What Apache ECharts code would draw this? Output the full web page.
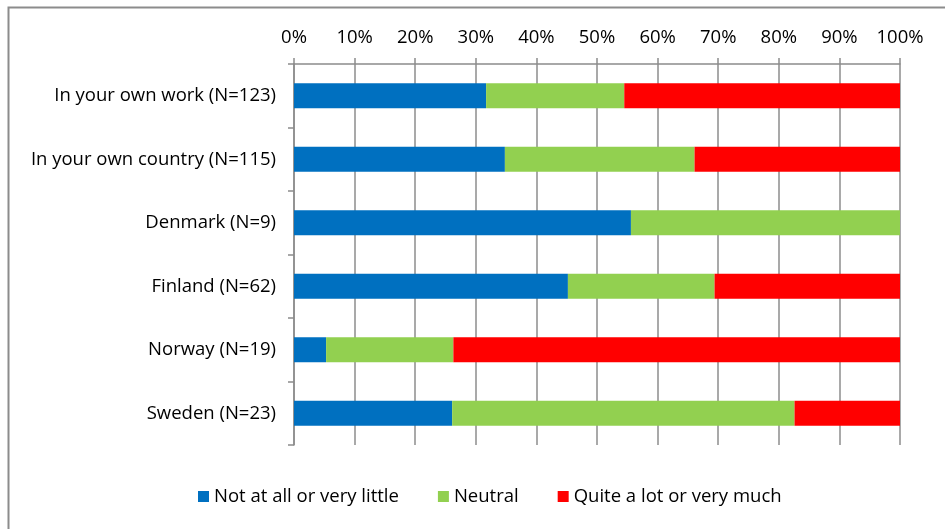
<!DOCTYPE html>
<html>
<head>
<meta charset="utf-8">
<script src="https://cdn.jsdelivr.net/npm/echarts@6/dist/echarts.min.js"></script>
<style>
html,body{margin:0;padding:0;background:#fff;}
#chart{width:945px;height:529px;}
</style>
</head>
<body>
<div id="chart"></div>
<script>
var categories = ["In your own work (N=123)", "In your own country (N=115)", "Denmark (N=9)", "Finland (N=62)", "Norway (N=19)", "Sweden (N=23)"];
var seriesNames = ["Not at all or very little", "Neutral", "Quite a lot or very much"];
var notAtAll = [31.7, 34.8, 55.6, 45.2, 5.3, 26.1];
var neutral = [22.8, 31.3, 44.4, 24.2, 21.0, 56.5];
var quiteALot = [45.5, 33.9, 0, 30.6, 73.7, 17.4];
var colors = ["#0070C0", "#92D050", "#FF0000"];

var FONT = "Open Sans";
var FS = 18.5;
var chart = echarts.init(document.getElementById('chart'));
var values = [notAtAll, neutral, quiteALot];
var option = {
  animation: false,
  textStyle: {fontFamily: FONT},
  graphic: [{
    type: 'rect', left: 6, top: 5, silent: true,
    shape: {width: 1000, height: 600},
    style: {fill: 'none', stroke: '#8c8c8c', lineWidth: 2}
  }],
  grid: {left: 294, top: 64, width: 606, height: 381, containLabel: false},
  xAxis: {
    type: 'value', position: 'top', min: 0, max: 100, interval: 10,
    axisLabel: {formatter: '{value}%', color: '#000', fontSize: FS, fontFamily: FONT, margin: 17},
    axisLine: {show: true, lineStyle: {color: '#8c8c8c', width: 1.5}},
    axisTick: {show: true, length: 6, lineStyle: {color: '#8c8c8c', width: 1.5}},
    splitLine: {show: true, lineStyle: {color: '#8c8c8c', width: 1.5}}
  },
  yAxis: {
    type: 'category', inverse: true, data: categories,
    axisLabel: {color: '#000', fontSize: FS, fontFamily: FONT, margin: 18},
    axisLine: {show: true, lineStyle: {color: '#8c8c8c', width: 1.5}},
    axisTick: {show: true, length: 6, lineStyle: {color: '#8c8c8c', width: 1.5}},
    splitLine: {show: false}
  },
  legend: {
    bottom: 18, left: 193, itemWidth: 11, itemHeight: 11, itemGap: 39,
    icon: 'rect',
    textStyle: {color: '#000', fontSize: FS, fontFamily: FONT},
    data: seriesNames
  },
  series: seriesNames.map(function(n, i){
    return {
      name: n, type: 'bar', stack: 'total', barWidth: '39%',
      itemStyle: {color: colors[i]},
      data: values[i]
    };
  })
};
chart.setOption(option);
</script>
</body>
</html>
